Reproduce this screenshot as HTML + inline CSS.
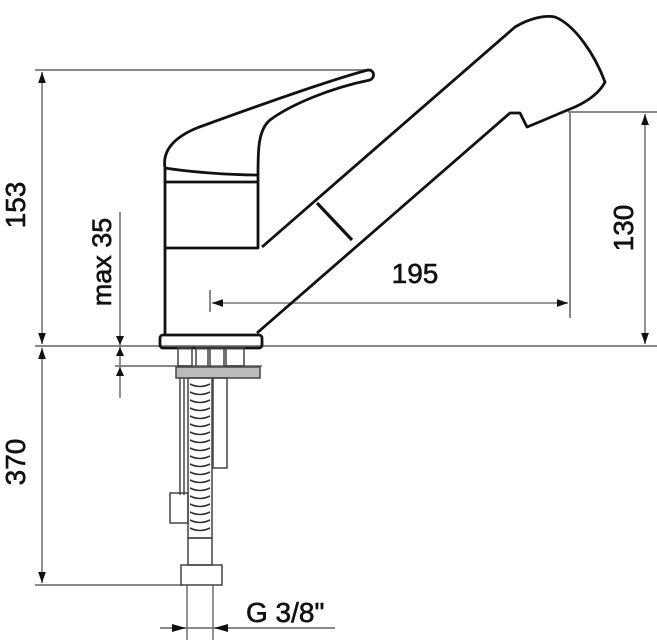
<!DOCTYPE html>
<html><head><style>
html,body{margin:0;padding:0;background:#fff;}
svg{display:block;}
text{font-family:"Liberation Sans",sans-serif;fill:#111;}
</style></head><body>
<svg width="657" height="640" viewBox="0 0 657 640" xmlns="http://www.w3.org/2000/svg">
<defs>
<marker id="a" viewBox="0 0 10 10" refX="10" refY="5" markerWidth="7" markerHeight="7" orient="auto-start-reverse"><path d="M0,1.5 L10,5 L0,8.5 z" fill="#111"/></marker>
</defs>
<g stroke="#888" stroke-width="2" fill="none">
<line x1="35" y1="70" x2="372" y2="70"/>
<line x1="35" y1="346" x2="657" y2="346"/>
<line x1="35" y1="585" x2="182" y2="585"/>
<line x1="115" y1="366" x2="262" y2="366"/>
<line x1="568" y1="112" x2="657" y2="112"/>
<line x1="570" y1="112" x2="570" y2="318"/>
<line x1="210" y1="290" x2="210" y2="312"/>
<line x1="160" y1="628" x2="335" y2="628"/>
</g>
<g stroke="#777" stroke-width="1.6" fill="none">
<line x1="42" y1="72" x2="42" y2="344" marker-start="url(#a)" marker-end="url(#a)"/>
<line x1="42" y1="348" x2="42" y2="583" marker-start="url(#a)" marker-end="url(#a)"/>
<line x1="120" y1="212" x2="120" y2="398"/>
<line x1="645" y1="114" x2="645" y2="344" marker-start="url(#a)" marker-end="url(#a)"/>
<line x1="212" y1="303" x2="568" y2="303" marker-start="url(#a)" marker-end="url(#a)"/>
<line x1="187" y1="585" x2="187" y2="640"/>
<line x1="213" y1="585" x2="213" y2="640"/>
</g>
<g fill="#111">
<path d="M116,336 L124,336 L120,345z M116,356 L124,356 L120,347z M116,376 L124,376 L120,367z"/>
<path d="M172,624 L186,628 L172,632z M228,624 L214,628 L228,632z"/>
</g>
<g stroke="#111" stroke-width="2.8" fill="none" stroke-linejoin="round">
<path d="M165,168 C162,150 175,135 205,125 C260,105 330,80 368,70 C375,70 375,78 370,80 C330,88 290,105 270,120 C258,130 258,150 258,175"/>
<path d="M165,168 L165,335"/>
<path d="M165,168 C190,172 230,175 258,175"/>
<line x1="165" y1="182" x2="258" y2="182"/>
<path d="M258,175 L258,248 L165,248"/>
<rect x="160" y="335" width="102" height="13" rx="3"/>
<path d="M262,247 L515,27 C530,18 545,15 555,17 C575,25 595,55 605,82 C600,92 590,100 575,107 C560,113 540,122 527,127 L520,113 L510,113 L257,333"/>
<line x1="317" y1="203" x2="352" y2="240" stroke-width="3.2"/>
</g>
<g stroke="#444" stroke-width="1.5" fill="none">
<rect x="178" y="348" width="14" height="18"/>
<rect x="196" y="348" width="12" height="20"/>
<rect x="210" y="348" width="14" height="20"/>
<rect x="226" y="348" width="18" height="18"/>
<rect x="176" y="367" width="84" height="11" fill="#bbb"/>
<line x1="180" y1="378" x2="180" y2="495"/>
<line x1="184" y1="378" x2="184" y2="495"/>
<rect x="170" y="493" width="18" height="30"/>
<rect x="188" y="378" width="24" height="160"/>
<rect x="213" y="378" width="14" height="90"/>
<rect x="188" y="538" width="24" height="27"/>
<rect x="181" y="565" width="41" height="20"/>
</g>
<g fill="none" stroke="#333" stroke-width="1.6">
<path d="M190,384 q10,5 20,0 M190,392 q10,5 20,0 M190,400 q10,5 20,0 M190,408 q10,5 20,0 M190,416 q10,5 20,0 M190,424 q10,5 20,0 M190,432 q10,5 20,0 M190,440 q10,5 20,0 M190,448 q10,5 20,0 M190,456 q10,5 20,0 M190,464 q10,5 20,0 M190,472 q10,5 20,0 M190,480 q10,5 20,0 M190,488 q10,5 20,0 M190,496 q10,5 20,0 M190,504 q10,5 20,0 M190,512 q10,5 20,0 M190,520 q10,5 20,0 M190,528 q10,5 20,0"/>
</g>
<g stroke="#111" stroke-width="0.6">
<text x="415" y="283" font-size="28" text-anchor="middle">195</text>
<text transform="translate(25,205) rotate(-90)" font-size="28" text-anchor="middle">153</text>
<text transform="translate(25,462) rotate(-90)" font-size="28" text-anchor="middle">370</text>
<text transform="translate(111,262) rotate(-90)" font-size="27" text-anchor="middle">max 35</text>
<text transform="translate(633,228) rotate(-90)" font-size="28" text-anchor="middle">130</text>
<text x="246" y="622" font-size="28">G 3/8"</text>
</g>
</svg>
</body></html>
